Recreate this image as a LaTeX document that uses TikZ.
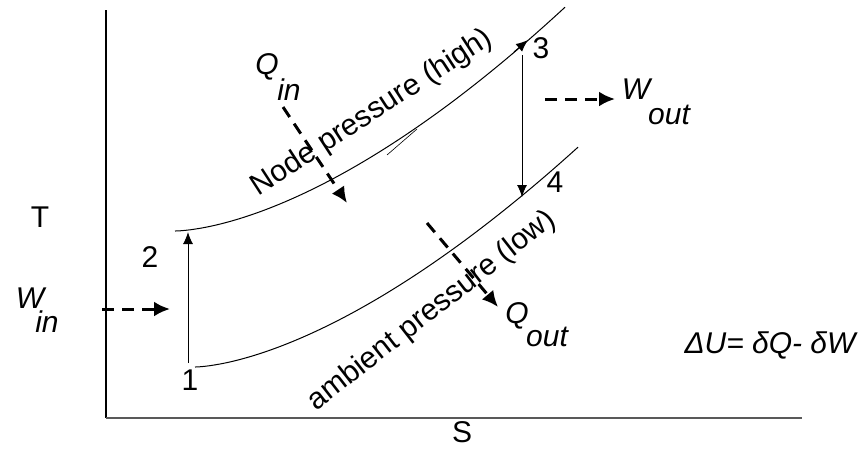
\documentclass[tikz,border=0pt]{standalone}
\usepackage{fontspec}
\setmainfont{Liberation Sans}
\usetikzlibrary{arrows.meta}
\begin{document}
\begin{tikzpicture}[x=1pt,y=-1pt,
  lbl/.style={font=\fontsize{30}{34}\selectfont, inner sep=0pt},
  ilbl/.style={font=\fontsize{30}{34}\selectfont\itshape, inner sep=0pt},
  curve/.style={line width=1pt},
  proc/.style={line width=1pt,-{Latex[length=12pt,width=10pt]}},
  flow/.style={line width=3pt,dash pattern=on 12pt off 8pt,-{Latex[length=16pt,width=15pt]}},
]
\useasboundingbox (0,0) rectangle (864,448);
% axes
\coordinate (yt) at (106,10);
\coordinate (o) at (106,418);
\coordinate (xr) at (802,418);
\draw[line width=1.5pt] (yt) -- (o);
\draw[line width=2pt, black!65] (o) -- (xr);
\node[lbl] (T) at (40,217) {T};
\node[lbl] (S) at (462,432) {S};
% isobars
\draw[curve] (175,231) -- plot[domain=176:565, samples=80] (\x, {231-44*((\x-175)/142)^1.61});
\draw[curve] (195,367) -- plot[domain=196:578, samples=80] (\x, {367-44*((\x-195)/138)^1.576});
\coordinate (s1) at (387,155);
\coordinate (s2) at (417,129);
\draw[line width=0.6pt] (s1) -- (s2);
% process arrows
\coordinate (p1) at (188,363);
\coordinate (p2) at (188,232);
\coordinate (p3s) at (522,55);
\coordinate (p4) at (522,197);
\coordinate (c3a) at (514,52);
\coordinate (c3b) at (528,40);
\draw[proc] (p1) -- (p2);
\draw[proc] (p3s) -- (p4);
\draw[proc] (c3a) -- (c3b);
\node[lbl] (n1) at (190,380) {1};
\node[lbl] (n2) at (150,257) {2};
\node[lbl] (n3) at (541,48) {3};
\node[lbl] (n4) at (555,182) {4};
% curve labels
\node[lbl, rotate=33] (hp) at (372,113) {Node pressure (high)};
\node[lbl, rotate=38] (lp) at (432,311) {ambient pressure (low)};
% energy flows
\coordinate (wi0) at (102,309);
\coordinate (wi1) at (170,309);
\coordinate (wo0) at (545,99);
\coordinate (wo1) at (615,99);
\coordinate (qi0) at (283,107);
\coordinate (qi1) at (347,203);
\coordinate (qo0) at (427,223);
\coordinate (qo1) at (498,307);
\draw[flow] (wi0) -- (wi1);
\draw[flow] (wo0) -- (wo1);
\draw[flow] (qi0) -- (qi1);
\draw[flow] (qo0) -- (qo1);
\node[ilbl] (Wi) at (30,298) {W};
\node[ilbl] (Wis) at (47,322) {in};
\node[ilbl] (Wo) at (636,89) {W};
\node[ilbl] (Wos) at (669,115) {out};
\node[ilbl] (Qi) at (267,67) {Q};
\node[ilbl] (Qis) at (289,90) {in};
\node[ilbl] (Qo) at (517,316) {Q};
\node[ilbl] (Qos) at (547,337) {out};
\node[ilbl] (eq) at (770,345) {ΔU= δQ- δW};
\end{tikzpicture}
\end{document}
